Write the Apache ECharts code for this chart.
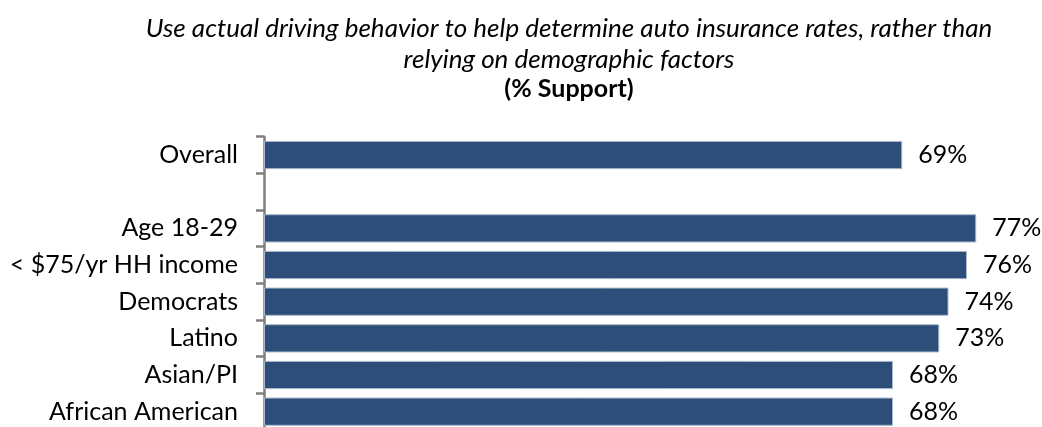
<!DOCTYPE html>
<html>
<head>
<meta charset="utf-8">
<script src="https://cdn.jsdelivr.net/npm/echarts@6/dist/echarts.min.js"></script>
<style>
  html, body { margin: 0; padding: 0; background: #fff; }
  #chart { width: 1042px; height: 427px; }
</style>
</head>
<body>
<div id="chart"></div>
<script>
// data
const categories = ['Overall', '', 'Age 18-29', '< $75/yr HH income', 'Democrats', 'Latino', 'Asian/PI', 'African American'];
const support = [69, null, 77, 76, 74, 73, 68, 68];
const titleLines = ['Use actual driving behavior to help determine auto insurance rates, rather than', 'relying on demographic factors'];
const subTitle = '(% Support)';

const font = 'Lato, "Open Sans", sans-serif';
const chart = echarts.init(document.getElementById('chart'));

chart.setOption({
  animation: false,
  title: [
    {
      text: titleLines.join('\n'),
      left: 564,
      top: 8,
      textAlign: 'center',
      textStyle: { fontFamily: font, fontStyle: 'italic', fontWeight: 'normal', fontSize: 26, lineHeight: 31, color: '#000' },
    },
    {
      text: subTitle,
      left: 564,
      top: 71,
      textAlign: 'center',
      textStyle: { fontFamily: font, fontWeight: 'bold', fontSize: 25, color: '#000' },
    },
  ],
  grid: { left: 264, right: 38, top: 136.7, bottom: -3, containLabel: false, outerBoundsMode: 'none' },
  xAxis: {
    type: 'value',
    min: 0,
    max: 80,
    show: false,
  },
  yAxis: {
    type: 'category',
    inverse: true,
    data: categories,
    axisLine: { show: true, lineStyle: { color: '#7f7f7f', width: 2.5 } },
    axisTick: { show: true, length: 8, lineStyle: { color: '#7f7f7f', width: 2.5 } },
    axisLabel: { fontFamily: font, fontSize: 25, color: '#000', margin: 26 },
    splitLine: { show: false },
  },
  series: [{
    type: 'bar',
    data: support,
    barCategoryGap: '23%',
    itemStyle: { color: '#2c4e78', borderColor: '#a9b8ca', borderWidth: 1 },
    label: {
      show: true,
      position: 'right',
      distance: 16,
      formatter: (p) => p.value + '%',
      fontFamily: font,
      fontSize: 25,
      color: '#000',
    },
  }],
});
</script>
</body>
</html>
